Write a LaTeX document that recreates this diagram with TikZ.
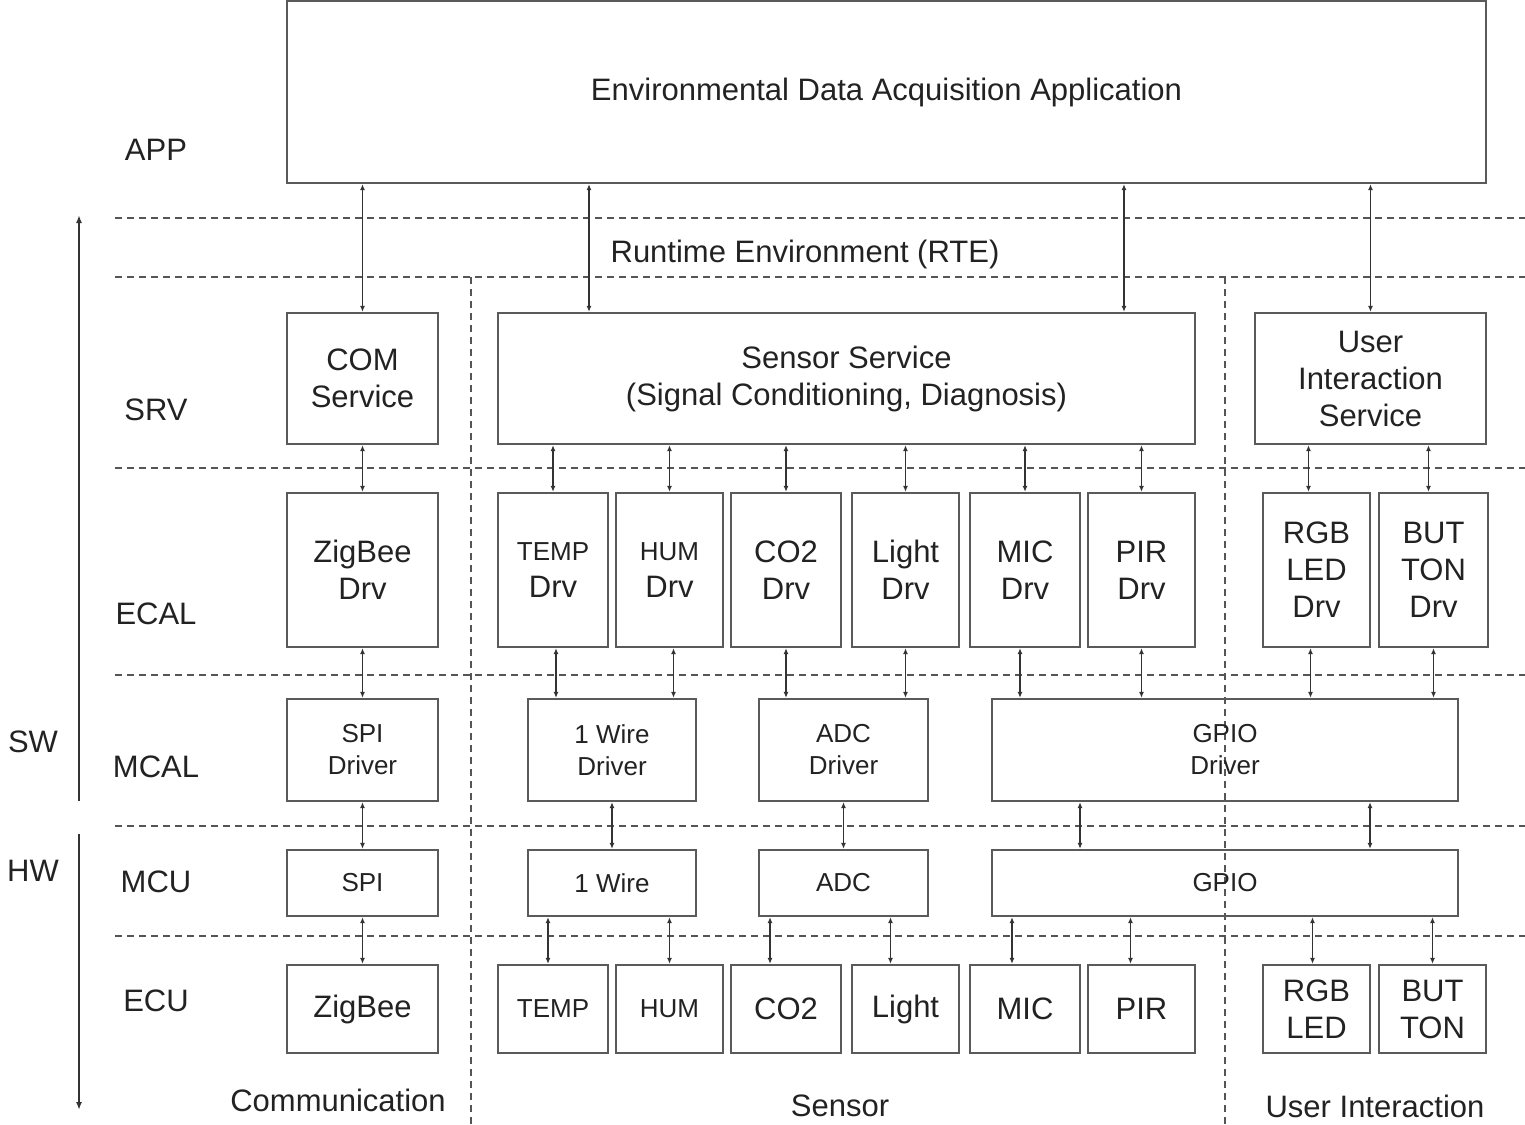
\documentclass[tikz,border=0pt]{standalone}
\usepackage{fontspec}
\setmainfont{Liberation Sans}
\usetikzlibrary{arrows.meta,positioning}

\definecolor{boxgray}{HTML}{5A5A5A}
\definecolor{linegray}{HTML}{333333}
\definecolor{sepgray}{HTML}{555555}
\definecolor{txtgray}{HTML}{222222}

\newcommand{\bigtxt}{\fontsize{15.5}{18.5}\selectfont}
\newcommand{\smalltxt}{\fontsize{13}{16}\selectfont}

\begin{document}
\begin{tikzpicture}[x=0.5pt,y=-0.5pt,
  box/.style={draw=boxgray,line width=1.2pt,align=center,inner sep=0pt,text=txtgray,font=\bigtxt},
  sbox/.style={box,font=\smalltxt},
  srvrow/.style={minimum height=65.5pt},
  ecalrow/.style={minimum height=77pt},
  mcalrow/.style={minimum height=51pt},
  mcurow/.style={minimum height=33pt},
  ecurow/.style={minimum height=44pt},
  link/.style={{Latex[length=3pt,width=2.6pt]}-{Latex[length=3pt,width=2.6pt]},draw=linegray,line width=0.9pt},
  sep/.style={draw=sepgray,line width=0.7pt,dash pattern=on 3.5pt off 2.5pt},
  layer/.style={font=\bigtxt,text=txtgray},
  side/.style={-{Latex[length=4pt,width=3pt]},draw=linegray,line width=0.9pt}]
\useasboundingbox (0,0) rectangle (1525,1124);

% Layer separators
\foreach \y in {218,277,468,675,826,936}
  \draw[sep] (115,\y) -- (1525,\y);
\draw[sep] (471,277) -- (471,1124);
\draw[sep] (1225,277) -- (1225,1124);

% Layer names
\node[layer] (lapp) at (156,150) {APP};
\node[layer] (lsrv) at (156,410) {SRV};
\node[layer] (lecal) at (156,614) {ECAL};
\node[layer] (lmcal) at (156,767) {MCAL};
\node[layer] (lmcu) at (156,882) {MCU};
\node[layer] (lecu) at (156,1001) {ECU};
\node[layer] (lsw) at (33,742) {SW};
\node[layer] (lhw) at (33,871) {HW};
\node[layer] (lrte) at (805,254) {Runtime Environment (RTE)};

% SW / HW
\coordinate (swbot) at (79,801);
\coordinate (swtop) at (79,215);
\coordinate (hwtop) at (79,834);
\coordinate (hwbot) at (79,1110);
\draw[side] (swbot) -- (swtop);
\draw[side] (hwtop) -- (hwbot);

% APP
\node[box,minimum width=599.5pt,minimum height=91pt] (app) at (886.5,92) {\raisebox{-1.5pt}{Environmental Data Acquisition Application}};

% SRV
\node[box,srvrow,minimum width=75.5pt] (comsrv) at (362.5,378.5) {COM\\Service};
\node[box,srvrow,minimum width=348.5pt] (senssrv) at (846.5,378.5) {Sensor Service\\(Signal Conditioning, Diagnosis)};
\node[box,srvrow,minimum width=115.5pt] (uisrv) at (1370.5,378.5) {User\\Interaction\\Service};

% ECAL
\node[box,ecalrow,minimum width=75.5pt] (zbdrv) at (362.5,570) {ZigBee\\Drv};
\node[box,ecalrow,minimum width=55pt] (tempdrv) at (553,570) {{\smalltxt TEMP}\\Drv};
\node[box,ecalrow,minimum width=53.5pt] (humdrv) at (669.5,570) {{\smalltxt HUM}\\Drv};
\node[box,ecalrow,minimum width=55pt] (co2drv) at (786,570) {CO2\\Drv};
\node[box,ecalrow,minimum width=53.5pt] (lightdrv) at (905.5,570) {Light\\Drv};
\node[box,ecalrow,minimum width=55pt] (micdrv) at (1025,570) {MIC\\Drv};
\node[box,ecalrow,minimum width=53.5pt] (pirdrv) at (1141.5,570) {PIR\\Drv};
\node[box,ecalrow,minimum width=53.5pt] (rgbdrv) at (1316.5,570) {RGB\\LED\\Drv};
\node[box,ecalrow,minimum width=54.5pt] (butdrv) at (1433.5,570) {BUT\\TON\\Drv};

% MCAL
\node[sbox,mcalrow,minimum width=75.5pt] (spidrv) at (362.5,750) {SPI\\Driver};
\node[sbox,mcalrow,minimum width=84pt] (owdrv) at (612,750) {1 Wire\\Driver};
\node[sbox,mcalrow,minimum width=84.5pt] (adcdrv) at (843.5,750) {ADC\\Driver};
\node[sbox,mcalrow,minimum width=233pt] (gpiodrv) at (1225,750) {GPIO\\Driver};

% MCU
\node[sbox,mcurow,minimum width=75.5pt] (spi) at (362.5,883) {SPI};
\node[sbox,mcurow,minimum width=84pt] (ow) at (612,883) {1 Wire};
\node[sbox,mcurow,minimum width=84.5pt] (adc) at (843.5,883) {ADC};
\node[sbox,mcurow,minimum width=233pt] (gpio) at (1225,883) {GPIO};

% ECU
\node[box,ecurow,minimum width=75.5pt] (zb) at (362.5,1009) {ZigBee};
\node[sbox,ecurow,minimum width=55pt] (temp) at (553,1009) {TEMP};
\node[sbox,ecurow,minimum width=53.5pt] (hum) at (669.5,1009) {HUM};
\node[box,ecurow,minimum width=55pt] (co2) at (786,1009) {CO2};
\node[box,ecurow,minimum width=53.5pt] (light) at (905.5,1009) {Light};
\node[box,ecurow,minimum width=55pt] (mic) at (1025,1009) {MIC};
\node[box,ecurow,minimum width=53.5pt] (pir) at (1141.5,1009) {PIR};
\node[box,ecurow,minimum width=53.5pt] (rgb) at (1316.5,1009) {RGB\\LED};
\node[box,ecurow,minimum width=53.5pt] (but) at (1432.5,1009) {BUT\\TON};

% Groups
\node[layer] (gcom) at (338,1100) {Communication};
\node[layer] (gsens) at (840,1106) {Sensor};
\node[layer] (gui) at (1375,1106) {User Interaction};

% APP <-> SRV
\coordinate (ssl) at ([xshift=-128.75pt]senssrv.north);
\coordinate (ssr) at ([xshift=138.75pt]senssrv.north);
\draw[link] (app.south -| comsrv) -- (comsrv.north);
\draw[link] (app.south -| ssl) -- (ssl);
\draw[link] (app.south -| ssr) -- (ssr);
\draw[link] (app.south -| uisrv) -- (uisrv.north);

% SRV <-> ECAL
\draw[link] (comsrv.south) -- (zbdrv.north);
\foreach \n in {tempdrv,humdrv,co2drv,lightdrv,micdrv,pirdrv}
  \draw[link] (senssrv.south -| \n) -- (\n.north);
\draw[link] ([xshift=-4pt]uisrv.south -| rgbdrv) -- ([xshift=-4pt]rgbdrv.north);
\draw[link] ([xshift=-2.5pt]uisrv.south -| butdrv) -- ([xshift=-2.5pt]butdrv.north);

% ECAL <-> MCAL
\draw[link] (zbdrv.south) -- (spidrv.north);
\draw[link] ([xshift=1.5pt]tempdrv.south) -- ([xshift=1.5pt]owdrv.north -| tempdrv);
\draw[link] ([xshift=2pt]humdrv.south) -- ([xshift=2pt]owdrv.north -| humdrv);
\draw[link] (co2drv.south) -- (adcdrv.north -| co2drv);
\draw[link] (lightdrv.south) -- (adcdrv.north -| lightdrv);
\draw[link] ([xshift=-2.5pt]micdrv.south) -- ([xshift=-2.5pt]gpiodrv.north -| micdrv);
\draw[link] (pirdrv.south) -- (gpiodrv.north -| pirdrv);
\draw[link] ([xshift=-3pt]rgbdrv.south) -- ([xshift=-3pt]gpiodrv.north -| rgbdrv);
\draw[link] (butdrv.south) -- (gpiodrv.north -| butdrv);

% MCAL <-> MCU
\draw[link] (spidrv.south) -- (spi.north);
\draw[link] (owdrv.south) -- (ow.north);
\draw[link] (adcdrv.south) -- (adc.north);
\draw[link] ([xshift=-72.5pt]gpiodrv.south) -- ([xshift=-72.5pt]gpio.north);
\draw[link] ([xshift=72.5pt]gpiodrv.south) -- ([xshift=72.5pt]gpio.north);

% MCU <-> ECU
\draw[link] (spi.south) -- (zb.north);
\draw[link] ([xshift=-2.5pt]ow.south -| temp) -- ([xshift=-2.5pt]temp.north);
\draw[link] (ow.south -| hum) -- (hum.north);
\draw[link] ([xshift=-8pt]adc.south -| co2) -- ([xshift=-8pt]co2.north);
\draw[link] ([xshift=-7.5pt]adc.south -| light) -- ([xshift=-7.5pt]light.north);
\draw[link] ([xshift=-6.5pt]gpio.south -| mic) -- ([xshift=-6.5pt]mic.north);
\draw[link] ([xshift=-5.5pt]gpio.south -| pir) -- ([xshift=-5.5pt]pir.north);
\draw[link] ([xshift=-2pt]gpio.south -| rgb) -- ([xshift=-2pt]rgb.north);
\draw[link] (gpio.south -| but) -- (but.north);
\end{tikzpicture}
\end{document}
